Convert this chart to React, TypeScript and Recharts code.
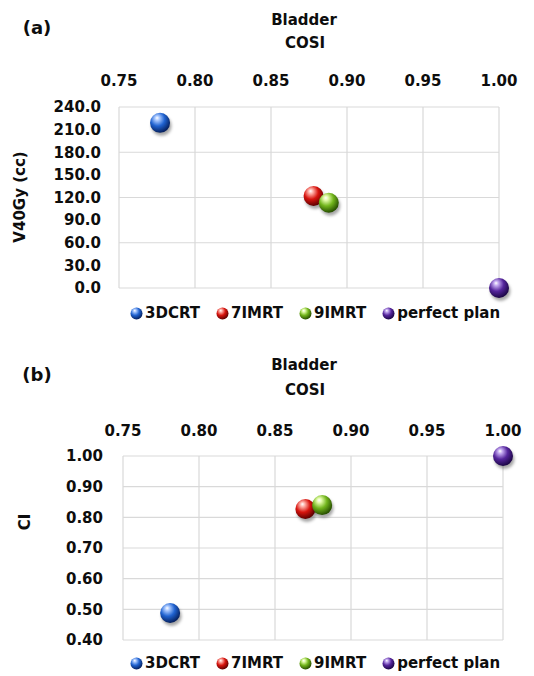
import React from 'react';
import { ScatterChart, Scatter, XAxis, YAxis, CartesianGrid, Legend } from 'recharts';

const plans = ['3DCRT', '7IMRT', '9IMRT', 'perfect plan'];

// panel (a): COSI vs V40Gy
const cosiA = [0.777, 0.878, 0.888, 1.0];
const v40 = [219, 122, 113, 0];

// panel (b): COSI vs CI
const cosiB = [0.781, 0.87, 0.881, 1.0];
const ci = [0.488, 0.827, 0.84, 1.0];

const cosiTicks = [0.75, 0.8, 0.85, 0.9, 0.95, 1.0];
const v40Ticks = [0, 30, 60, 90, 120, 150, 180, 210, 240];
const ciTicks = [0.4, 0.5, 0.6, 0.7, 0.8, 0.9, 1.0];

const ballColors = [
  { hi: '#a9c8ff', mid: '#1f62d0', dark: '#06205e' },
  { hi: '#ffb0a8', mid: '#d8140e', dark: '#5c0000' },
  { hi: '#e2fba8', mid: '#72b51c', dark: '#274f00' },
  { hi: '#c3a8f0', mid: '#55259c', dark: '#1c0646' },
];

const FONT = '"DejaVu Sans", sans-serif';
const tickStyle = { fill: '#0d0d0d', fontSize: 15, fontWeight: 700, fontFamily: FONT };

const Ball = ({ cx, cy, i, r = 10 }: { cx: number; cy: number; i: number; r?: number }) => (
  <g>
    <circle cx={cx + 1.5} cy={cy + 3} r={r} fill="rgba(0,0,0,0.35)" filter="url(#ballShadow)" />
    <circle cx={cx} cy={cy} r={r} fill={`url(#ball-${i})`} />
  </g>
);

const LegendRow = ({ padTop }: { padTop: number }) => (
  <div style={{ paddingTop: padTop, display: 'flex', paddingLeft: 130, height: 20, alignItems: 'center', fontFamily: FONT, fontWeight: 700, fontSize: 15, color: '#0d0d0d' }}>
    {plans.map((p, i) => (
      <div key={p} style={{ display: 'flex', alignItems: 'center', marginRight: 16 }}>
        <svg width={13} height={13} style={{ marginRight: 2 }}>
          <circle cx={6.5} cy={6.5} r={6} fill={`url(#ball-${i})`} />
        </svg>
        <span style={{ whiteSpace: 'pre' }}>{p}</span>
      </div>
    ))}
  </div>
);

const Txt = ({ x, y, size, children, rotate }: { x: number; y: number; size: number; children: React.ReactNode; rotate?: boolean }) => (
  <div style={{
    position: 'absolute', left: x, top: y, fontFamily: FONT, fontWeight: 700, fontSize: size, color: '#0d0d0d',
    whiteSpace: 'nowrap', lineHeight: 1, transform: `translate(-50%, -50%)${rotate ? ' rotate(-90deg)' : ''}`,
  }}>{children}</div>
);

export default function App() {
  return (
    <div style={{ position: 'absolute', left: 0, top: 0, width: 534, height: 676, background: '#fff' }}>
      <svg width={0} height={0} style={{ position: 'absolute' }}>
        <defs>
          {ballColors.map((c, i) => (
            <radialGradient key={i} id={`ball-${i}`} cx="40%" cy="35%" r="65%" fx="35%" fy="25%">
              <stop offset="0%" stopColor="#ffffff" />
              <stop offset="18%" stopColor={c.hi} />
              <stop offset="55%" stopColor={c.mid} />
              <stop offset="100%" stopColor={c.dark} />
            </radialGradient>
          ))}
          <filter id="ballShadow" x="-50%" y="-50%" width="200%" height="200%">
            <feGaussianBlur stdDeviation="1.8" />
          </filter>
        </defs>
      </svg>

      {/* panel (a) */}
      <div style={{ position: 'absolute', left: 0, top: 0 }}>
        <ScatterChart width={534} height={340} margin={{ top: 67, right: 35, bottom: 17, left: 0 }}>
          <CartesianGrid stroke="#d9d9d9" strokeWidth={1.2} />
          <XAxis type="number" dataKey="x" orientation="top" domain={[0.75, 1]} ticks={cosiTicks}
            tickFormatter={(v: number) => v.toFixed(2)} axisLine={false} tickLine={false}
            tickSize={0} tickMargin={21} height={40} tick={tickStyle} />
          <YAxis type="number" dataKey="y" domain={[0, 240]} ticks={v40Ticks}
            tickFormatter={(v: number) => v.toFixed(1)} axisLine={false} tickLine={false}
            tickSize={0} tickMargin={18} width={119} tick={tickStyle} />
          <Legend verticalAlign="bottom" content={() => <LegendRow padTop={15} />} />
          {plans.map((p, i) => (
            <Scatter key={p} name={p} data={[{ x: cosiA[i], y: v40[i] }]} isAnimationActive={false}
              shape={(s: any) => <Ball cx={s.cx} cy={s.cy} i={i} />} />
          ))}
        </ScatterChart>
      </div>
      <Txt x={37} y={28} size={18}>(a)</Txt>
      <Txt x={304} y={20} size={15}>Bladder</Txt>
      <Txt x={305} y={43} size={15}>COSI</Txt>
      <Txt x={20} y={197} size={15} rotate>V40Gy (cc)</Txt>

      {/* panel (b) */}
      <div style={{ position: 'absolute', left: 0, top: 340 }}>
        <ScatterChart width={534} height={336} margin={{ top: 76, right: 31, bottom: 3, left: 0 }}>
          <CartesianGrid stroke="#d9d9d9" strokeWidth={1.2} />
          <XAxis type="number" dataKey="x" orientation="top" domain={[0.75, 1]} ticks={cosiTicks}
            tickFormatter={(v: number) => v.toFixed(2)} axisLine={false} tickLine={false}
            tickSize={0} tickMargin={20} height={40} tick={tickStyle} />
          <YAxis type="number" dataKey="y" domain={[0.4, 1]} ticks={ciTicks}
            tickFormatter={(v: number) => v.toFixed(2)} axisLine={false} tickLine={false}
            tickSize={0} tickMargin={20} width={123} tick={tickStyle} />
          <Legend verticalAlign="bottom" content={() => <LegendRow padTop={13} />} />
          {plans.map((p, i) => (
            <Scatter key={p} name={p} data={[{ x: cosiB[i], y: ci[i] }]} isAnimationActive={false}
              shape={(s: any) => <Ball cx={s.cx} cy={s.cy} i={i} />} />
          ))}
        </ScatterChart>
      </div>
      <Txt x={37} y={375} size={18}>(b)</Txt>
      <Txt x={304} y={365} size={15}>Bladder</Txt>
      <Txt x={305} y={390} size={15}>COSI</Txt>
      <Txt x={25} y={522} size={15} rotate>CI</Txt>
    </div>
  );
}
